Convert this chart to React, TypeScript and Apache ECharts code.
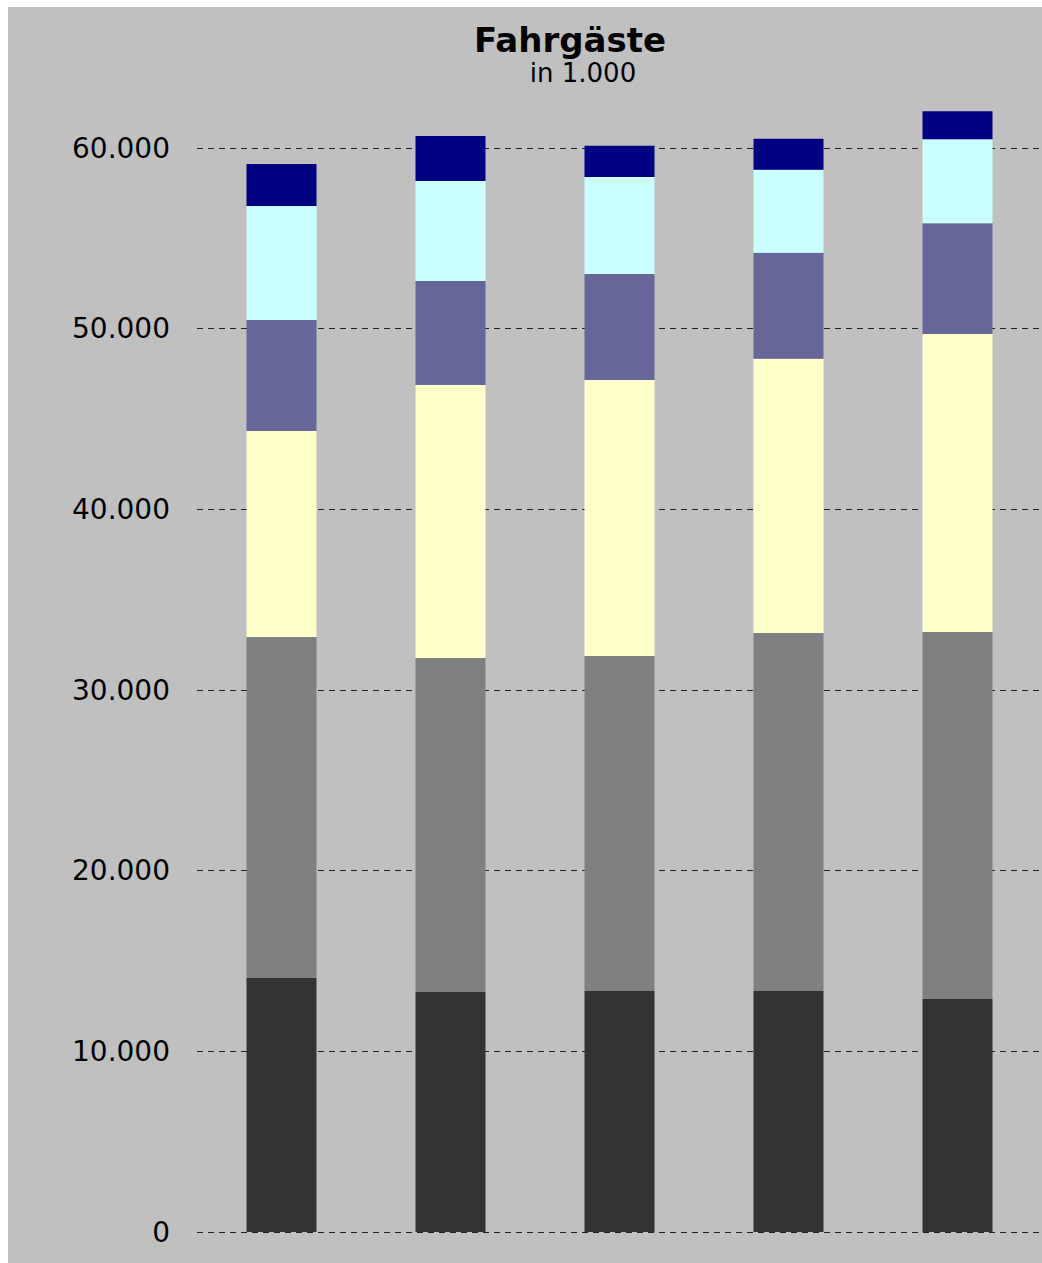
import React, { useEffect, useRef } from "react";
import * as echarts from "echarts";

// Categories (not labelled in the original)
const categories = ["Jahr 1", "Jahr 2", "Jahr 3", "Jahr 4", "Jahr 5"];

// Stacked segments, bottom to top (passengers in 1,000)
const seg1 = [14060, 13280, 13340, 13340, 12900];
const seg2 = [18880, 18490, 18540, 19820, 20310];
const seg3 = [11400, 15110, 15280, 15170, 16490];
const seg4 = [6140, 5760, 5870, 5870, 6140];
const seg5 = [6310, 5540, 5370, 4590, 4650];
const seg6 = [2330, 2490, 1720, 1720, 1550];

const segmentNames = ["Segment 1", "Segment 2", "Segment 3", "Segment 4", "Segment 5", "Segment 6"];
const segmentColors = ["#333333", "#808080", "#ffffcc", "#666699", "#ccffff", "#000080"];
const segments = [seg1, seg2, seg3, seg4, seg5, seg6];

const yMin = 0;
const yMax = 60000;
const yInterval = 10000;

const titleText = "Fahrgäste";
const subtitleText = "in 1.000";

const FONT = "'DejaVu Sans', 'Liberation Sans', Arial, sans-serif";

function fmt(v: number): string {
  return String(Math.round(v)).replace(/\B(?=(\d{3})+(?!\d))/g, ".");
}

export default function App() {
  const ref = useRef<HTMLDivElement>(null);

  useEffect(() => {
    if (!ref.current) return;
    const chart = echarts.init(ref.current, undefined, { renderer: "svg" });
    chart.setOption({
      animation: false,
      backgroundColor: "#c0c0c0",
      textStyle: { fontFamily: FONT },
      graphic: [
        {
          type: "text",
          x: 562,
          y: 33,
          style: {
            text: titleText,
            fill: "#000",
            font: "bold 34px " + FONT,
            lineHeight: 28,
            align: "center",
            verticalAlign: "middle",
          },
        },
        {
          type: "text",
          x: 575,
          y: 66,
          style: {
            text: subtitleText,
            fill: "#000",
            font: "26px " + FONT,
            lineHeight: 22,
            align: "center",
            verticalAlign: "middle",
          },
        },
      ],
      grid: { left: 189, right: 0, top: 141, bottom: 31, containLabel: false },
      xAxis: {
        type: "category",
        data: categories,
        axisLine: { show: false },
        axisTick: { show: false },
        axisLabel: { show: false },
        splitLine: { show: false },
      },
      yAxis: {
        type: "value",
        min: yMin,
        max: yMax,
        interval: yInterval,
        axisLine: { show: false },
        axisTick: { show: false },
        axisLabel: {
          color: "#000",
          fontSize: 28,
          fontFamily: FONT,
          margin: 27,
          formatter: (v: number) => fmt(v),
        },
        splitLine: {
          show: true,
          lineStyle: { color: "#222", width: 1, type: [6, 5] },
        },
      },
      series: segments.map((data, i) => ({
        name: segmentNames[i],
        type: "bar",
        stack: "total",
        data,
        barWidth: 70,
        clip: false,
        itemStyle: { color: segmentColors[i] },
        emphasis: { disabled: true },
      })),
    });
    return () => chart.dispose();
  }, []);

  return (
    <div
      style={{
        position: "absolute",
        left: 8,
        top: 7,
        width: 1034,
        height: 1256,
        background: "#c0c0c0",
      }}
    >
      <div ref={ref} style={{ width: 1034, height: 1256 }} />
    </div>
  );
}
